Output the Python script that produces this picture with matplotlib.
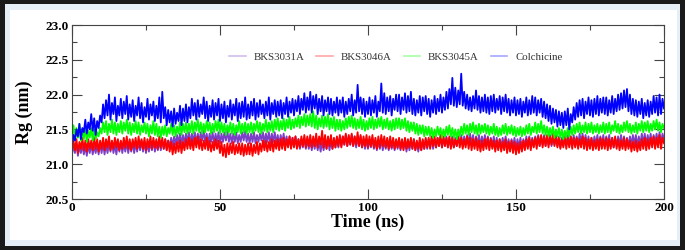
#!/usr/bin/env python3
# Rg vs time for four ligand complexes (200 ns MD)
import matplotlib as mpl
import matplotlib.pyplot as plt
from matplotlib.patches import Rectangle
from matplotlib.ticker import MultipleLocator

mpl.rcParams["font.family"] = ["Liberation Serif", "DejaVu Serif"]

# ─── data (0.5 ns steps, 0..200 ns, 20 values per row = 10 ns) ───
time_ns = [i * 0.5 for i in range(401)]

rg_colchicine = [
    21.28, 21.42, 21.34, 21.50, 21.40, 21.58, 21.36, 21.52, 21.46, 21.64, 21.44, 21.60, 21.50, 21.72, 21.48, 21.66, 21.42, 21.62, 21.52, 21.70,
    21.60, 21.86, 21.66, 21.92, 21.70, 22.00, 21.64, 21.88, 21.72, 21.96, 21.62, 21.84, 21.70, 21.94, 21.66, 21.90, 21.72, 21.98, 21.64, 21.86,
    21.68, 21.92, 21.62, 21.84, 21.70, 21.96, 21.66, 21.88, 21.60, 21.82, 21.68, 21.94, 21.64, 21.86, 21.70, 21.90, 21.62, 21.84, 21.66, 21.96,
    21.60, 22.04, 21.66, 21.82, 21.56, 21.78, 21.60, 21.76, 21.54, 21.80, 21.58, 21.74, 21.62, 21.84, 21.56, 21.80, 21.62, 21.86, 21.60, 21.82,
    21.66, 21.94, 21.70, 21.88, 21.64, 21.92, 21.68, 21.86, 21.72, 21.96, 21.66, 21.90, 21.62, 21.84, 21.68, 21.92, 21.64, 21.88, 21.70, 21.94,
    21.62, 21.86, 21.66, 21.90, 21.60, 21.84, 21.68, 21.92, 21.64, 21.86, 21.70, 21.94, 21.62, 21.88, 21.66, 21.90, 21.68, 21.96, 21.64, 21.86,
    21.66, 21.90, 21.70, 21.94, 21.64, 21.88, 21.68, 21.92, 21.72, 21.86, 21.66, 21.90, 21.70, 21.96, 21.64, 21.88, 21.72, 21.92, 21.68, 21.90,
    21.70, 21.92, 21.66, 21.88, 21.72, 21.96, 21.68, 21.90, 21.74, 21.94, 21.70, 21.92, 21.76, 21.98, 21.72, 21.94, 21.78, 22.02, 21.74, 21.96,
    21.78, 22.04, 21.74, 21.98, 21.80, 22.00, 21.72, 21.94, 21.76, 21.98, 21.70, 21.92, 21.76, 21.96, 21.72, 21.94, 21.70, 21.90, 21.74, 21.96,
    21.70, 21.92, 21.74, 21.96, 21.68, 21.90, 21.72, 21.94, 21.76, 22.00, 21.70, 21.92, 21.74, 22.14, 21.76, 21.96, 21.72, 21.94, 21.68, 21.90,
    21.72, 21.96, 21.70, 21.92, 21.74, 21.98, 21.68, 21.90, 21.76, 22.16, 21.74, 22.02, 21.72, 21.96, 21.76, 21.98, 21.70, 21.94, 21.78, 22.00,
    21.76, 22.00, 21.72, 21.96, 21.78, 22.02, 21.74, 21.98, 21.76, 22.04, 21.72, 21.94, 21.70, 21.92, 21.74, 21.98, 21.70, 21.96, 21.76, 21.98,
    21.72, 21.94, 21.68, 21.92, 21.74, 21.98, 21.72, 21.94, 21.76, 22.00, 21.74, 21.96, 21.78, 22.04, 21.80, 22.08, 21.86, 22.24, 21.84, 22.10,
    21.82, 22.06, 21.86, 22.30, 21.84, 22.04, 21.80, 22.00, 21.78, 21.96, 21.76, 21.98, 21.80, 22.06, 21.78, 21.98, 21.74, 21.96, 21.76, 22.00,
    21.74, 21.96, 21.72, 21.98, 21.76, 22.00, 21.74, 21.94, 21.78, 21.98, 21.72, 21.96, 21.76, 22.00, 21.74, 21.94, 21.70, 21.92, 21.74, 21.96,
    21.70, 21.92, 21.72, 21.94, 21.68, 21.90, 21.74, 21.96, 21.70, 21.92, 21.72, 21.98, 21.74, 21.96, 21.70, 21.92, 21.74, 21.94, 21.68, 21.90,
    21.66, 21.86, 21.62, 21.84, 21.58, 21.80, 21.60, 21.78, 21.54, 21.76, 21.56, 21.74, 21.52, 21.76, 21.56, 21.80, 21.50, 21.72, 21.60, 21.82,
    21.64, 21.88, 21.68, 21.92, 21.70, 21.94, 21.66, 21.90, 21.72, 21.96, 21.70, 21.92, 21.68, 21.94, 21.72, 21.98, 21.70, 21.94, 21.74, 21.96,
    21.72, 21.96, 21.70, 21.92, 21.74, 21.98, 21.72, 21.94, 21.76, 22.00, 21.78, 22.02, 21.80, 22.06, 21.82, 22.08, 21.76, 22.00, 21.72, 21.94,
    21.70, 21.92, 21.68, 21.90, 21.72, 21.94, 21.66, 21.88, 21.70, 21.92, 21.68, 21.90, 21.72, 21.98, 21.74, 21.96, 21.70, 22.00, 21.72, 21.94,
    21.80,
]

rg_bks3045a = [
    21.40, 21.56, 21.36, 21.52, 21.38, 21.58, 21.34, 21.50, 21.36, 21.54, 21.32, 21.48, 21.38, 21.52, 21.34, 21.50, 21.36, 21.46, 21.40, 21.52,
    21.44, 21.60, 21.46, 21.62, 21.42, 21.58, 21.46, 21.64, 21.44, 21.60, 21.42, 21.58, 21.46, 21.62, 21.44, 21.60, 21.48, 21.64, 21.44, 21.60,
    21.42, 21.58, 21.46, 21.62, 21.44, 21.60, 21.42, 21.56, 21.46, 21.60, 21.44, 21.58, 21.40, 21.56, 21.44, 21.62, 21.42, 21.58, 21.40, 21.54,
    21.38, 21.54, 21.42, 21.56, 21.40, 21.52, 21.44, 21.58, 21.42, 21.56, 21.40, 21.54, 21.44, 21.60, 21.42, 21.58, 21.46, 21.60, 21.44, 21.58,
    21.46, 21.62, 21.44, 21.60, 21.48, 21.64, 21.46, 21.60, 21.44, 21.58, 21.46, 21.62, 21.48, 21.60, 21.44, 21.58, 21.46, 21.62, 21.48, 21.64,
    21.44, 21.60, 21.46, 21.58, 21.42, 21.56, 21.46, 21.60, 21.44, 21.58, 21.42, 21.56, 21.46, 21.62, 21.44, 21.58, 21.46, 21.60, 21.44, 21.58,
    21.46, 21.60, 21.44, 21.58, 21.48, 21.62, 21.46, 21.60, 21.44, 21.58, 21.48, 21.64, 21.46, 21.60, 21.48, 21.62, 21.46, 21.64, 21.50, 21.66,
    21.48, 21.62, 21.50, 21.66, 21.48, 21.64, 21.52, 21.68, 21.50, 21.64, 21.52, 21.66, 21.54, 21.70, 21.52, 21.68, 21.56, 21.72, 21.54, 21.70,
    21.56, 21.72, 21.54, 21.76, 21.52, 21.70, 21.50, 21.66, 21.54, 21.70, 21.52, 21.68, 21.54, 21.72, 21.50, 21.66, 21.52, 21.68, 21.48, 21.64,
    21.50, 21.64, 21.48, 21.62, 21.50, 21.66, 21.52, 21.68, 21.54, 21.70, 21.52, 21.66, 21.50, 21.64, 21.52, 21.68, 21.50, 21.64, 21.48, 21.62,
    21.50, 21.66, 21.52, 21.68, 21.50, 21.64, 21.52, 21.66, 21.54, 21.68, 21.50, 21.64, 21.52, 21.66, 21.50, 21.62, 21.48, 21.64, 21.50, 21.66,
    21.52, 21.66, 21.50, 21.64, 21.52, 21.66, 21.48, 21.62, 21.46, 21.60, 21.48, 21.60, 21.44, 21.58, 21.42, 21.56, 21.44, 21.56, 21.40, 21.54,
    21.42, 21.54, 21.40, 21.52, 21.38, 21.50, 21.40, 21.54, 21.42, 21.52, 21.38, 21.50, 21.40, 21.54, 21.42, 21.56, 21.40, 21.52, 21.38, 21.50,
    21.36, 21.50, 21.40, 21.54, 21.42, 21.58, 21.44, 21.56, 21.42, 21.58, 21.46, 21.60, 21.44, 21.56, 21.42, 21.58, 21.44, 21.56, 21.46, 21.58,
    21.44, 21.56, 21.42, 21.54, 21.44, 21.58, 21.42, 21.54, 21.40, 21.52, 21.42, 21.56, 21.44, 21.58, 21.42, 21.54, 21.44, 21.56, 21.42, 21.54,
    21.40, 21.52, 21.42, 21.54, 21.40, 21.52, 21.42, 21.56, 21.44, 21.58, 21.42, 21.54, 21.46, 21.60, 21.44, 21.58, 21.46, 21.62, 21.44, 21.56,
    21.42, 21.54, 21.40, 21.52, 21.42, 21.54, 21.38, 21.50, 21.40, 21.52, 21.38, 21.50, 21.36, 21.48, 21.38, 21.52, 21.40, 21.54, 21.42, 21.56,
    21.44, 21.58, 21.46, 21.60, 21.44, 21.56, 21.46, 21.60, 21.44, 21.58, 21.46, 21.60, 21.44, 21.56, 21.46, 21.58, 21.44, 21.56, 21.46, 21.60,
    21.44, 21.58, 21.46, 21.60, 21.44, 21.56, 21.48, 21.62, 21.46, 21.58, 21.44, 21.56, 21.46, 21.60, 21.48, 21.62, 21.46, 21.58, 21.44, 21.56,
    21.46, 21.60, 21.44, 21.58, 21.48, 21.62, 21.46, 21.60, 21.48, 21.62, 21.46, 21.58, 21.48, 21.62, 21.50, 21.64, 21.48, 21.60, 21.46, 21.58,
    21.52,
]

rg_bks3046a = [
    21.18, 21.34, 21.20, 21.36, 21.16, 21.32, 21.22, 21.38, 21.20, 21.34, 21.18, 21.36, 21.22, 21.34, 21.20, 21.38, 21.22, 21.36, 21.18, 21.34,
    21.22, 21.38, 21.20, 21.36, 21.24, 21.40, 21.20, 21.34, 21.22, 21.38, 21.24, 21.36, 21.20, 21.34, 21.22, 21.38, 21.24, 21.40, 21.22, 21.36,
    21.20, 21.36, 21.24, 21.38, 21.22, 21.40, 21.24, 21.36, 21.22, 21.38, 21.20, 21.36, 21.24, 21.40, 21.22, 21.38, 21.24, 21.36, 21.22, 21.40,
    21.24, 21.38, 21.22, 21.36, 21.20, 21.34, 21.18, 21.32, 21.14, 21.30, 21.16, 21.32, 21.18, 21.34, 21.16, 21.32, 21.20, 21.36, 21.22, 21.38,
    21.22, 21.36, 21.20, 21.38, 21.24, 21.40, 21.22, 21.36, 21.20, 21.34, 21.22, 21.38, 21.20, 21.34, 21.18, 21.32, 21.20, 21.36, 21.22, 21.34,
    21.16, 21.32, 21.12, 21.28, 21.10, 21.30, 21.14, 21.30, 21.16, 21.32, 21.14, 21.28, 21.16, 21.30, 21.14, 21.30, 21.12, 21.28, 21.14, 21.30,
    21.14, 21.30, 21.12, 21.28, 21.16, 21.32, 21.14, 21.30, 21.18, 21.34, 21.20, 21.34, 21.18, 21.32, 21.20, 21.36, 21.18, 21.34, 21.22, 21.36,
    21.20, 21.36, 21.22, 21.38, 21.20, 21.36, 21.24, 21.40, 21.22, 21.38, 21.24, 21.40, 21.22, 21.36, 21.24, 21.40, 21.26, 21.42, 21.24, 21.40,
    21.26, 21.42, 21.24, 21.40, 21.26, 21.44, 21.24, 21.40, 21.28, 21.48, 21.24, 21.42, 21.22, 21.40, 21.26, 21.42, 21.22, 21.38, 21.24, 21.40,
    21.26, 21.42, 21.24, 21.40, 21.28, 21.44, 21.26, 21.42, 21.28, 21.44, 21.26, 21.40, 21.28, 21.46, 21.26, 21.42, 21.24, 21.40, 21.26, 21.42,
    21.24, 21.40, 21.26, 21.42, 21.24, 21.38, 21.22, 21.40, 21.24, 21.42, 21.26, 21.40, 21.24, 21.38, 21.22, 21.40, 21.24, 21.38, 21.22, 21.36,
    21.24, 21.38, 21.22, 21.36, 21.20, 21.38, 21.22, 21.36, 21.24, 21.38, 21.22, 21.36, 21.20, 21.34, 21.22, 21.38, 21.20, 21.36, 21.22, 21.38,
    21.24, 21.38, 21.22, 21.40, 21.26, 21.40, 21.24, 21.38, 21.26, 21.42, 21.24, 21.40, 21.26, 21.38, 21.24, 21.40, 21.22, 21.38, 21.24, 21.36,
    21.26, 21.40, 21.24, 21.38, 21.22, 21.36, 21.24, 21.40, 21.22, 21.38, 21.20, 21.36, 21.22, 21.38, 21.20, 21.34, 21.18, 21.34, 21.20, 21.36,
    21.22, 21.38, 21.20, 21.36, 21.22, 21.34, 21.18, 21.34, 21.20, 21.36, 21.18, 21.32, 21.20, 21.36, 21.16, 21.32, 21.18, 21.34, 21.16, 21.32,
    21.14, 21.30, 21.16, 21.32, 21.18, 21.34, 21.20, 21.36, 21.22, 21.38, 21.20, 21.36, 21.24, 21.38, 21.22, 21.40, 21.26, 21.42, 21.24, 21.40,
    21.26, 21.42, 21.24, 21.40, 21.28, 21.44, 21.26, 21.40, 21.24, 21.38, 21.22, 21.36, 21.24, 21.40, 21.22, 21.38, 21.24, 21.40, 21.22, 21.38,
    21.24, 21.38, 21.22, 21.36, 21.24, 21.40, 21.22, 21.38, 21.20, 21.36, 21.22, 21.38, 21.20, 21.34, 21.22, 21.36, 21.20, 21.38, 21.22, 21.36,
    21.22, 21.38, 21.20, 21.36, 21.22, 21.38, 21.24, 21.40, 21.22, 21.36, 21.20, 21.34, 21.22, 21.38, 21.20, 21.36, 21.22, 21.34, 21.18, 21.32,
    21.20, 21.34, 21.18, 21.32, 21.20, 21.36, 21.22, 21.38, 21.20, 21.36, 21.22, 21.38, 21.24, 21.40, 21.22, 21.38, 21.24, 21.42, 21.22, 21.38,
    21.30,
]

rg_bks3031a = [
    21.14, 21.28, 21.16, 21.30, 21.12, 21.26, 21.16, 21.28, 21.14, 21.26, 21.12, 21.28, 21.16, 21.30, 21.14, 21.26, 21.16, 21.28, 21.14, 21.30,
    21.16, 21.30, 21.14, 21.28, 21.16, 21.30, 21.18, 21.32, 21.16, 21.28, 21.14, 21.30, 21.18, 21.32, 21.16, 21.30, 21.18, 21.32, 21.16, 21.30,
    21.18, 21.32, 21.16, 21.30, 21.18, 21.32, 21.20, 21.34, 21.18, 21.32, 21.16, 21.30, 21.18, 21.32, 21.20, 21.34, 21.18, 21.30, 21.20, 21.34,
    21.20, 21.34, 21.22, 21.36, 21.20, 21.34, 21.24, 21.38, 21.26, 21.40, 21.28, 21.42, 21.30, 21.44, 21.28, 21.42, 21.30, 21.44, 21.32, 21.46,
    21.30, 21.44, 21.32, 21.46, 21.30, 21.44, 21.32, 21.46, 21.34, 21.48, 21.32, 21.44, 21.30, 21.44, 21.32, 21.46, 21.30, 21.44, 21.32, 21.46,
    21.30, 21.44, 21.32, 21.46, 21.34, 21.48, 21.32, 21.44, 21.30, 21.44, 21.32, 21.46, 21.30, 21.42, 21.32, 21.46, 21.34, 21.48, 21.32, 21.44,
    21.30, 21.44, 21.32, 21.46, 21.30, 21.42, 21.32, 21.44, 21.34, 21.46, 21.30, 21.44, 21.32, 21.46, 21.30, 21.44, 21.32, 21.46, 21.30, 21.42,
    21.28, 21.42, 21.30, 21.44, 21.28, 21.40, 21.26, 21.40, 21.24, 21.38, 21.26, 21.40, 21.24, 21.36, 21.22, 21.36, 21.24, 21.38, 21.22, 21.36,
    21.22, 21.34, 21.20, 21.34, 21.22, 21.36, 21.20, 21.32, 21.18, 21.32, 21.20, 21.34, 21.22, 21.36, 21.20, 21.34, 21.22, 21.36, 21.24, 21.38,
    21.24, 21.38, 21.26, 21.40, 21.28, 21.42, 21.26, 21.40, 21.28, 21.42, 21.26, 21.40, 21.24, 21.38, 21.26, 21.40, 21.24, 21.36, 21.22, 21.36,
    21.22, 21.36, 21.24, 21.38, 21.22, 21.34, 21.20, 21.34, 21.22, 21.36, 21.20, 21.34, 21.22, 21.36, 21.20, 21.32, 21.22, 21.34, 21.20, 21.34,
    21.22, 21.36, 21.20, 21.34, 21.22, 21.36, 21.18, 21.32, 21.20, 21.34, 21.22, 21.36, 21.20, 21.32, 21.18, 21.32, 21.20, 21.34, 21.22, 21.36,
    21.22, 21.36, 21.24, 21.38, 21.22, 21.36, 21.24, 21.38, 21.26, 21.40, 21.24, 21.38, 21.26, 21.40, 21.24, 21.38, 21.26, 21.40, 21.24, 21.38,
    21.26, 21.40, 21.28, 21.42, 21.26, 21.40, 21.28, 21.42, 21.30, 21.44, 21.28, 21.42, 21.26, 21.40, 21.28, 21.42, 21.26, 21.40, 21.28, 21.42,
    21.26, 21.40, 21.24, 21.38, 21.26, 21.40, 21.24, 21.38, 21.22, 21.36, 21.24, 21.38, 21.26, 21.40, 21.24, 21.36, 21.22, 21.36, 21.24, 21.38,
    21.22, 21.36, 21.24, 21.38, 21.22, 21.36, 21.24, 21.40, 21.26, 21.40, 21.24, 21.38, 21.26, 21.40, 21.28, 21.42, 21.26, 21.40, 21.28, 21.42,
    21.26, 21.40, 21.28, 21.42, 21.26, 21.38, 21.28, 21.42, 21.26, 21.40, 21.24, 21.38, 21.26, 21.40, 21.28, 21.42, 21.26, 21.40, 21.28, 21.42,
    21.26, 21.40, 21.28, 21.44, 21.30, 21.44, 21.28, 21.42, 21.26, 21.40, 21.24, 21.38, 21.26, 21.40, 21.28, 21.42, 21.26, 21.40, 21.28, 21.42,
    21.26, 21.40, 21.28, 21.42, 21.26, 21.38, 21.24, 21.38, 21.26, 21.40, 21.28, 21.42, 21.26, 21.40, 21.24, 21.38, 21.26, 21.40, 21.28, 21.42,
    21.28, 21.42, 21.26, 21.40, 21.28, 21.44, 21.30, 21.44, 21.28, 21.42, 21.30, 21.44, 21.28, 21.42, 21.30, 21.44, 21.32, 21.46, 21.30, 21.44,
    21.36,
]

series = [
    ("BKS3031A", rg_bks3031a, "#7b3fc8"),
    ("BKS3046A", rg_bks3046a, "#ff0000"),
    ("BKS3045A", rg_bks3045a, "#00ff00"),
    ("Colchicine", rg_colchicine, "#0000ff"),
]

# ─── figure + framed background ─────────────────────────────────────
fig = plt.figure(figsize=(6.85, 2.5), dpi=100)
fig.patch.set_facecolor("white")
fig.patches.append(Rectangle((0, 0), 1, 1, transform=fig.transFigure,
                             facecolor="#1a1a1a", edgecolor="none", zorder=-3))
fig.patches.append(Rectangle((0.007, 0.016), 0.986, 0.968, transform=fig.transFigure,
                             facecolor="#e6eef8", edgecolor="none", zorder=-2))
fig.patches.append(Rectangle((0.015, 0.04), 0.973, 0.92, transform=fig.transFigure,
                             facecolor="white", edgecolor="none", zorder=-1))

ax = fig.add_axes([0.1051, 0.204, 0.8642, 0.696])

for label, vals, col in series:
    ax.plot(time_ns, vals, color=col, lw=1.3, label=label)

ax.set_xlim(0, 200)
ax.set_ylim(20.5, 23.0)
ax.xaxis.set_major_locator(MultipleLocator(50))
ax.xaxis.set_minor_locator(MultipleLocator(25))
ax.yaxis.set_major_locator(MultipleLocator(0.5))
ax.yaxis.set_minor_locator(MultipleLocator(0.25))
ax.tick_params(which="both", direction="in", top=True, right=True,
               color="#444444", width=0.8)
ax.tick_params(which="major", length=7, labelsize=9.5, pad=2)
ax.tick_params(which="minor", length=3.5)
ax.set_yticks([20.5, 21.0, 21.5, 22.0, 22.5, 23.0])
ax.set_yticklabels(["20.5", "21.0", "21.5", "22.0", "22.5", "23.0"])
for t in ax.get_xticklabels() + ax.get_yticklabels():
    t.set_fontweight("bold")
for s in ax.spines.values():
    s.set_color("#444444")
    s.set_linewidth(0.8)

ax.set_xlabel("Time (ns)", fontsize=13, fontweight="bold", labelpad=0)
ax.set_ylabel("Rg (nm)", fontsize=13, fontweight="bold", labelpad=9)

leg = ax.legend(loc="center", bbox_to_anchor=(0.547, 0.816), ncol=4,
                frameon=False, fontsize=7.8, handlelength=1.5,
                columnspacing=1.1, handletextpad=0.75)
for h in leg.get_lines():
    h.set_alpha(0.35)
    h.set_linewidth(1.2)
for t in leg.get_texts():
    t.set_color("#333333")

fig.savefig("out.png", dpi=100)
